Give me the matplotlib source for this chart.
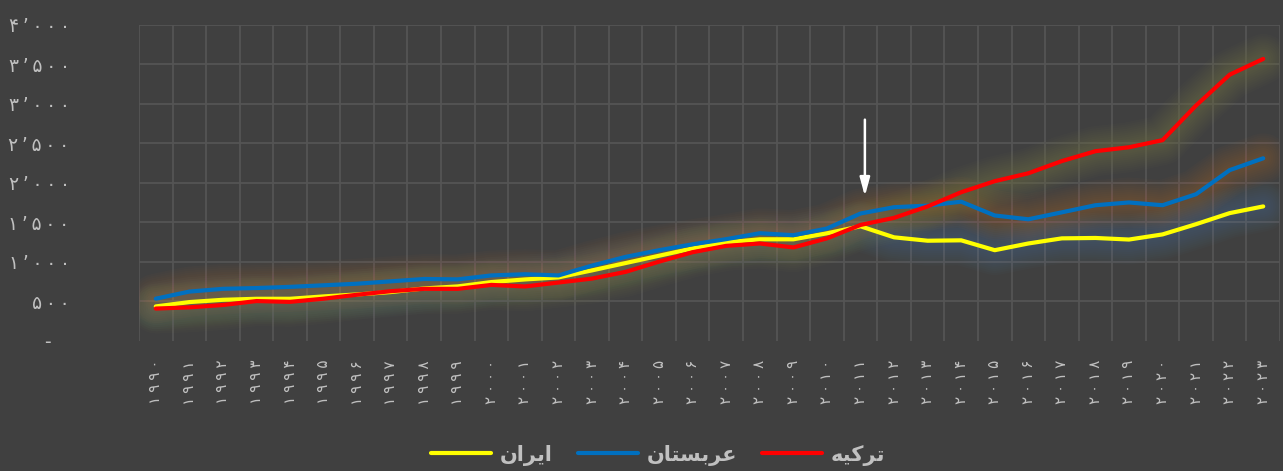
import matplotlib
matplotlib.use("Agg")
import matplotlib.pyplot as plt
import numpy as np

# years 1990..2023
years = list(range(1990, 2024))

iran = [432, 487, 516, 529, 529, 559, 584, 614, 660, 686, 741, 774, 800, 889, 982, 1075,
        1168, 1244, 1283, 1283, 1359, 1448, 1308, 1265, 1270, 1145, 1230, 1295, 1300, 1280,
        1345, 1475, 1615, 1700]
arabia = [530, 620, 655, 665, 680, 700, 720, 750, 780, 775, 825, 840, 825, 950, 1060, 1145,
          1220, 1285, 1360, 1335, 1420, 1610, 1690, 1710, 1760, 1585, 1537, 1625, 1715, 1750,
          1715, 1855, 2160, 2310]
turkey = [405, 420, 450, 500, 490, 530, 580, 625, 655, 655, 705, 685, 735, 785, 870, 1000,
          1120, 1200, 1230, 1180, 1295, 1465, 1555, 1700, 1880, 2020, 2120, 2275, 2400, 2450,
          2540, 2980, 3370, 3570]

# labels already shaped (presentation forms, visual order)
lbl_iran = "\uFEE5\uFE8D\uFEAE\uFBFE\uFE8D"                 # ایران
lbl_arabia = "\uFEE5\uFE8E\uFE98\uFEB4\uFE91\uFEAE\uFECB"   # عربستان
lbl_turkey = "\uFEEA\uFBFF\uFB90\uFEAE\uFE97"               # ترکیه

yticks = [0, 500, 1000, 1500, 2000, 2500, 3000, 3500, 4000]

fa_digits = str.maketrans("0123456789", "\u06F0\u06F1\u06F2\u06F3\u06F4\u06F5\u06F6\u06F7\u06F8\u06F9")


def fa_num(v):
    if v == 0:
        return "-   "
    s = "{:,}".format(v).replace(",", "\u2019")
    return "\u2009".join(s.translate(fa_digits))


bg = "#404040"
txt = "#c0c0c0"
grid = "#555555"

fig = plt.figure(figsize=(12.83, 4.71), dpi=100, facecolor=bg)
ax = fig.add_axes([139 / 1283, 1 - 340.5 / 471, (1280 - 139) / 1283, (340.5 - 25) / 471])
ax.set_facecolor(bg)

x = np.arange(len(years))

series = [
    (iran, "#ffff00", "#5b9bd5", lbl_iran),
    (arabia, "#0070c0", "#ed7d31", lbl_arabia),
    (turkey, "#ff0000", "#a8a840", lbl_turkey),
]

# soft glow first
for vals, c, gc, _ in series:
    for w in range(36, 4, -3):
        ax.plot(x, vals, color=gc, lw=w, alpha=0.022, solid_capstyle="round",
                solid_joinstyle="round", zorder=2)

for vals, c, gc, name in series:
    ax.plot(x, vals, color=c, lw=3, solid_capstyle="round", solid_joinstyle="round",
            zorder=3, label=name)

ax.set_xlim(-0.5, len(years) - 0.5)
ax.set_ylim(0, 4000)
ax.set_xticks(x)
ax.set_xticklabels(["\u2005".join(str(y).translate(fa_digits)) for y in years], rotation=90,
                   fontsize=11, color=txt)
ax.set_yticks(yticks)
ax.set_yticklabels([fa_num(v) for v in yticks], fontsize=13.5, color=txt)
ax.grid(False)
for v in yticks[1:]:
    ax.axhline(v, color=grid, lw=1.3, zorder=1)
for xv in np.arange(-0.5, len(years), 1.0):
    ax.axvline(xv, color=grid, lw=1.3, zorder=1)
ax.tick_params(axis="x", length=0, pad=14)
ax.tick_params(axis="y", length=0, pad=50)
for s in ax.spines.values():
    s.set_visible(False)

# arrow near 2011
ax.annotate("", xy=(21.13, 1830), xytext=(21.13, 2800),
            arrowprops=dict(arrowstyle="-|>,head_length=1.1,head_width=0.3",
                            color="white", lw=1.8, shrinkA=0, shrinkB=0), zorder=5)

leg = fig.legend(loc="center", bbox_to_anchor=(658 / 1283, 1 - 455 / 471), ncol=3,
                 frameon=False, handlelength=2.9, columnspacing=1.2, handletextpad=0.4,
                 prop={"size": 15, "weight": "bold"})
for t in leg.get_texts():
    t.set_color(txt)

fig.savefig("out.png", dpi=100, facecolor=bg)
